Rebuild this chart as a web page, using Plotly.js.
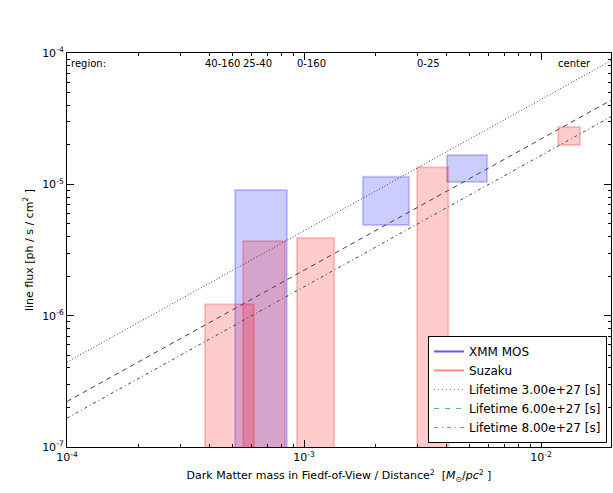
<!DOCTYPE html>
<html>
<head>
<meta charset="utf-8">
<script src="https://cdn.plot.ly/plotly-3.0.1.min.js"></script>
<style>html,body{margin:0;padding:0;background:#fff;}#plot{width:613px;height:493px;}</style>
</head>
<body>
<div id="plot"></div>
<script>
// XMM MOS boxes
var xmmX0 = [5.12e-4, 1.77e-3, 4.01e-3];
var xmmX1 = [8.47e-4, 2.77e-3, 5.92e-3];
var xmmLo = [1e-9, 4.9e-6, 1.04e-5];
var xmmHi = [9.06e-6, 1.14e-5, 1.67e-5];
// Suzaku boxes
var suzX0 = [3.82e-4, 5.53e-4, 9.33e-4, 3.0e-3, 1.18e-2];
var suzX1 = [6.15e-4, 8.32e-4, 1.34e-3, 4.06e-3, 1.46e-2];
var suzLo = [1e-9, 1e-9, 1e-9, 1e-9, 1.99e-5];
var suzHi = [1.22e-6, 3.70e-6, 3.9e-6, 1.35e-5, 2.73e-5];
// region labels
var regionNames = ['40-160', '25-40', '0-160', '0-25', 'center'];
var regionX = [3.82e-4, 5.53e-4, 9.33e-4, 3.0e-3, 1.18e-2];
// lifetime lines
var lifeNames = ['Lifetime 3.00e+27 [s]', 'Lifetime 6.00e+27 [s]', 'Lifetime 8.00e+27 [s]'];
var lifeDash = ['1px,2px', '5px,4px', '3px,3px,1px,3px'];
var lineX = [1e-4, 2e-2];
var lineY = [[4.43e-7, 8.86e-5], [2.22e-7, 4.43e-5], [1.66e-7, 3.32e-5]];

var traces = [];
function box(x0, x1, lo, hi, fill, edge) {
  return {x: [x0, x1, x1, x0, x0], y: [lo, lo, hi, hi, lo], type: 'scatter', mode: 'lines',
    fill: 'toself', fillcolor: fill, line: {color: edge, width: 2}, showlegend: false, hoverinfo: 'skip'};
}
for (var i = 0; i < xmmX0.length; i++) traces.push(box(xmmX0[i], xmmX1[i], xmmLo[i], xmmHi[i], 'rgba(0,0,255,0.2)', 'rgba(0,0,255,0.2)'));
for (var i = 0; i < suzX0.length; i++) traces.push(box(suzX0[i], suzX1[i], suzLo[i], suzHi[i], 'rgba(255,0,0,0.2)', 'rgba(255,0,0,0.2)'));
for (var i = 0; i < lifeNames.length; i++) {
  traces.push({x: lineX, y: lineY[i], type: 'scatter', mode: 'lines', line: {color: '#444', width: 1, dash: lifeDash[i]}, showlegend: false});
}
// legend entries
traces.push({x: [null], y: [null], type: 'scatter', mode: 'lines', name: 'XMM MOS', line: {color: 'rgba(0,0,255,0.65)', width: 2}});
traces.push({x: [null], y: [null], type: 'scatter', mode: 'lines', name: 'Suzaku', line: {color: 'rgba(255,0,0,0.45)', width: 2}});
var legDash = ['1px,3px', '5px,6px', '4px,4px,1px,4px'];
for (var i = 0; i < lifeNames.length; i++) {
  traces.push({x: [null], y: [null], type: 'scatter', mode: 'lines', name: lifeNames[i], line: {color: 'rgba(0,128,0,0.6)', width: 1, dash: legDash[i]}});
}

function minors(a, b) {
  var v = [];
  for (var e = a; e < b; e++) for (var m = 2; m <= 9; m++) v.push(m * Math.pow(10, e));
  return v;
}

var annotations = [{x: -4, y: -4.02, xref: 'x', yref: 'y', text: 'region:', showarrow: false, xanchor: 'left', yanchor: 'top', xshift: 2, font: {size: 10, color: 'black'}}];
for (var i = 0; i < regionNames.length; i++) {
  annotations.push({x: Math.log10(regionX[i]), y: -4.02, xref: 'x', yref: 'y', text: regionNames[i], showarrow: false, xanchor: 'left', yanchor: 'top', xshift: -2, font: {size: 10, color: 'black'}});
}

var layout = {
  width: 613, height: 493,
  margin: {l: 67, r: 2, t: 53, b: 46},
  paper_bgcolor: 'white', plot_bgcolor: 'white',
  font: {family: 'DejaVu Sans', size: 11, color: 'black'},
  xaxis: {type: 'log', range: [-4, -1.705], showgrid: false, zeroline: false,
    showline: true, linecolor: 'black', linewidth: 1, mirror: 'ticks',
    ticks: 'inside', ticklen: 7, tickcolor: 'black',
    tickmode: 'array', tickvals: [1e-4, 1e-3, 1e-2], ticktext: ['10<sup>-4</sup>', '10<sup>-3</sup>', '10<sup>-2</sup>'],
    minor: {tickmode: 'array', tickvals: minors(-4, -1), ticklen: 3, ticks: 'inside', tickcolor: 'black', showgrid: false},
    tickfont: {size: 11},
    title: {text: 'Dark Matter mass in Fiedf-of-View / Distance<sup>2</sup>  [<i>M</i><sub>⊙</sub>/<i>pc</i><sup>2</sup> ]', font: {size: 11}, standoff: 8}
  },
  yaxis: {type: 'log', range: [-7, -4], showgrid: false, zeroline: false,
    showline: true, linecolor: 'black', linewidth: 1, mirror: 'ticks',
    ticks: 'inside', ticklen: 7, tickcolor: 'black',
    tickmode: 'array', tickvals: [1e-7, 1e-6, 1e-5, 1e-4], ticktext: ['10<sup>-7</sup>', '10<sup>-6</sup>', '10<sup>-5</sup>', '10<sup>-4</sup>'],
    minor: {tickmode: 'array', tickvals: minors(-7, -4), ticklen: 3, ticks: 'inside', tickcolor: 'black', showgrid: false},
    tickfont: {size: 11},
    title: {text: 'line flux [ph / s / cm<sup>2</sup> ]', font: {size: 11}, standoff: 6}
  },
  showlegend: true,
  legend: {x: 0.9926, y: 0.0102, xanchor: 'right', yanchor: 'bottom', bgcolor: 'white', bordercolor: 'black', borderwidth: 1,
    font: {size: 12, color: 'black'}},
  annotations: annotations
};
Plotly.newPlot('plot', traces, layout, {staticPlot: true, displayModeBar: false});
</script>
</body>
</html>
